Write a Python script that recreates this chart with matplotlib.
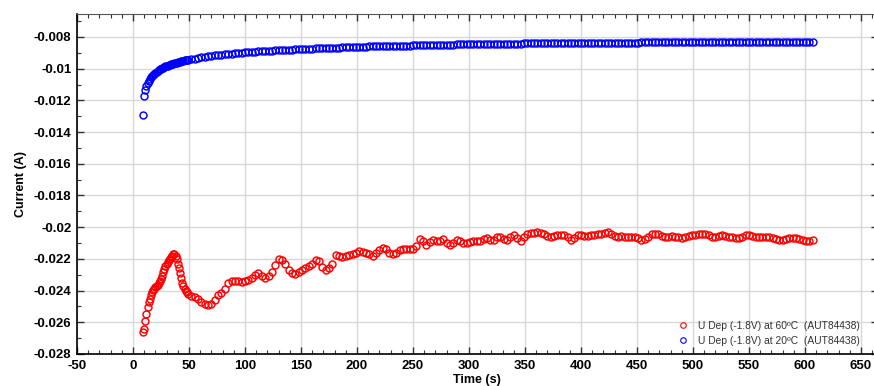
import numpy as np
import matplotlib
matplotlib.use("Agg")
import matplotlib.pyplot as plt
from matplotlib.ticker import MultipleLocator, FuncFormatter

# ---------------- data ----------------
time_early = np.arange(9, 50, 1)      # 9..49 s
time_late = np.arange(52, 608, 3)     # 52..607 s
time_s = np.concatenate([time_early, time_late])

current_60C = [
    # 9..49 s (1 s)
    -0.02664, -0.02645, -0.02590, -0.02545, -0.02505, -0.02475, -0.02450, -0.02428,
    -0.02410, -0.02396, -0.02388, -0.02380, -0.02373, -0.02365, -0.02355, -0.02342,
    -0.02325, -0.02305, -0.02285, -0.02265, -0.02245, -0.02230, -0.02218, -0.02208,
    -0.02200, -0.02190, -0.02180, -0.02172, -0.02170, -0.02180, -0.02200, -0.02230,
    -0.02260, -0.02290, -0.02320, -0.02350, -0.02370, -0.02388, -0.02400, -0.02412,
    -0.02422,
    # 52..607 s (3 s)
    -0.02435, -0.02442, -0.02455, -0.02470, -0.02482, -0.02490, -0.02485, -0.02460,
    -0.02430, -0.02415, -0.02390, -0.02350, -0.02340, -0.02342, -0.02340, -0.02345,
    -0.02340, -0.02330, -0.02320, -0.02300, -0.02290, -0.02310, -0.02320, -0.02310,
    -0.02280, -0.02240, -0.02200, -0.02210, -0.02235, -0.02270, -0.02290, -0.02295,
    -0.02280, -0.02270, -0.02255, -0.02245, -0.02230, -0.02210, -0.02215, -0.02250,
    -0.02270, -0.02255, -0.02230, -0.02175, -0.02180, -0.02190, -0.02180, -0.02175,
    -0.02170, -0.02160, -0.02150, -0.02155, -0.02160, -0.02170, -0.02180, -0.02165,
    -0.02145, -0.02130, -0.02140, -0.02160, -0.02170, -0.02160, -0.02145, -0.02140,
    -0.02140, -0.02140, -0.02140, -0.02120, -0.02075, -0.02085, -0.02110, -0.02095,
    -0.02080, -0.02090, -0.02090, -0.02075, -0.02100, -0.02115, -0.02100, -0.02080,
    -0.02090, -0.02100, -0.02100, -0.02095, -0.02090, -0.02090, -0.02085, -0.02075,
    -0.02070, -0.02080, -0.02080, -0.02065, -0.02065, -0.02075, -0.02080, -0.02065,
    -0.02050, -0.02070, -0.02090, -0.02060, -0.02040, -0.02035, -0.02035, -0.02030,
    -0.02035, -0.02045, -0.02055, -0.02060, -0.02055, -0.02050, -0.02050, -0.02050,
    -0.02060, -0.02080, -0.02070, -0.02050, -0.02050, -0.02055, -0.02055, -0.02050,
    -0.02050, -0.02045, -0.02040, -0.02035, -0.02030, -0.02040, -0.02055, -0.02060,
    -0.02055, -0.02060, -0.02060, -0.02060, -0.02065, -0.02070, -0.02080, -0.02075,
    -0.02060, -0.02045, -0.02040, -0.02045, -0.02055, -0.02060, -0.02060, -0.02055,
    -0.02060, -0.02065, -0.02070, -0.02065, -0.02055, -0.02050, -0.02050, -0.02045,
    -0.02040, -0.02040, -0.02050, -0.02060, -0.02060, -0.02055, -0.02050, -0.02055,
    -0.02060, -0.02065, -0.02070, -0.02070, -0.02060, -0.02050, -0.02050, -0.02055,
    -0.02060, -0.02060, -0.02060, -0.02060, -0.02065, -0.02070, -0.02075, -0.02080,
    -0.02080, -0.02075, -0.02070, -0.02070, -0.02070, -0.02075, -0.02080, -0.02085,
    -0.02085, -0.02080,
]

current_20C = [
    # 9..49 s (1 s)
    -0.01292, -0.01175, -0.01135, -0.01110, -0.01088, -0.01075, -0.01065, -0.01055,
    -0.01046, -0.01039, -0.01032, -0.01026, -0.01020, -0.01015, -0.01010, -0.01005,
    -0.01001, -0.00997, -0.00993, -0.00990, -0.00986, -0.00983, -0.00980, -0.00977,
    -0.00975, -0.00972, -0.00970, -0.00968, -0.00965, -0.00963, -0.00961, -0.00959,
    -0.00957, -0.00955, -0.00953, -0.00951, -0.00950, -0.00948, -0.00946, -0.00945,
    -0.00943,
    # 52..607 s (3 s)
    -0.00940, -0.00936, -0.00932, -0.00929, -0.00925, -0.00922, -0.00919, -0.00916,
    -0.00914, -0.00911, -0.00909, -0.00907, -0.00905, -0.00903, -0.00901, -0.00899,
    -0.00897, -0.00896, -0.00894, -0.00892, -0.00891, -0.00890, -0.00888, -0.00887,
    -0.00886, -0.00884, -0.00883, -0.00882, -0.00881, -0.00880, -0.00879, -0.00878,
    -0.00877, -0.00876, -0.00875, -0.00874, -0.00873, -0.00872, -0.00871, -0.00871,
    -0.00870, -0.00869, -0.00868, -0.00867, -0.00867, -0.00866, -0.00865, -0.00865,
    -0.00864, -0.00863, -0.00862, -0.00862, -0.00861, -0.00860, -0.00860, -0.00859,
    -0.00859, -0.00858, -0.00857, -0.00857, -0.00856, -0.00856, -0.00855, -0.00855,
    -0.00854, -0.00854, -0.00853, -0.00853, -0.00852, -0.00852, -0.00851, -0.00851,
    -0.00850, -0.00850, -0.00849, -0.00849, -0.00849, -0.00848, -0.00848, -0.00847,
    -0.00847, -0.00847, -0.00846, -0.00846, -0.00846, -0.00845, -0.00845, -0.00845,
    -0.00844, -0.00844, -0.00844, -0.00843, -0.00843, -0.00843, -0.00843, -0.00842,
    -0.00842, -0.00842, -0.00842, -0.00841, -0.00841, -0.00841, -0.00841, -0.00840,
    -0.00840, -0.00840, -0.00840, -0.00839, -0.00839, -0.00839, -0.00839, -0.00839,
    -0.00838, -0.00838, -0.00838, -0.00838, -0.00838, -0.00837, -0.00837, -0.00837,
    -0.00837, -0.00837, -0.00836, -0.00836, -0.00836, -0.00836, -0.00836, -0.00836,
    -0.00835, -0.00835, -0.00835, -0.00835, -0.00835, -0.00835, -0.00834, -0.00834,
    -0.00834, -0.00834, -0.00834, -0.00834, -0.00834, -0.00833, -0.00833, -0.00833,
    -0.00833, -0.00833, -0.00833, -0.00833, -0.00833, -0.00832, -0.00832, -0.00832,
    -0.00832, -0.00832, -0.00832, -0.00832, -0.00832, -0.00832, -0.00831, -0.00831,
    -0.00831, -0.00831, -0.00831, -0.00831, -0.00831, -0.00831, -0.00831, -0.00831,
    -0.00830, -0.00830, -0.00830, -0.00830, -0.00830, -0.00830, -0.00830, -0.00830,
    -0.00830, -0.00830, -0.00830, -0.00830, -0.00830, -0.00830, -0.00830, -0.00830,
    -0.00830, -0.00830,
]

label_60C = "U Dep (-1.8V) at 60\u00baC  (AUT84438)"
label_20C = "U Dep (-1.8V) at 20\u00baC  (AUT84438)"
x_label = "Time (s)"
y_label = "Current (A)"

n = min(len(time_s), len(current_60C), len(current_20C))
time_s = time_s[:n]
current_60C = current_60C[:n]
current_20C = current_20C[:n]

# ---------------- figure ----------------
plt.rcParams['font.family'] = ['Liberation Sans', 'DejaVu Sans']
plt.rcParams['axes.unicode_minus'] = False
W, H = 874, 386
fig = plt.figure(figsize=(W / 100, H / 100), dpi=100)

x0, x1 = -50, 665
left_px, top_px, bottom_px = 77, 14, 354
px_per_unit = 1.12
width_px = (x1 - x0) * px_per_unit
ax = fig.add_axes([left_px / W, (H - bottom_px) / H, width_px / W, (bottom_px - top_px) / H])

ax.set_xlim(x0, x1)
ax.set_ylim(-0.028, -0.00655)

ax.grid(True, which='major', color='#d8d8d8', linewidth=1.0)
ax.set_axisbelow(True)

mk = dict(linestyle='none', marker='o', markersize=5.0, markerfacecolor='none', markeredgewidth=1.05)
ax.plot(time_s, current_60C, color='#ff0000', label=label_60C, **mk)
ax.plot(time_s, current_20C, color='#0000ff', label=label_20C, **mk)

ax.xaxis.set_major_locator(MultipleLocator(50))
ax.xaxis.set_minor_locator(MultipleLocator(10))
ax.yaxis.set_major_locator(MultipleLocator(0.002))
ax.yaxis.set_minor_locator(MultipleLocator(0.001))


def yfmt(v, pos):
    s = f"{v:.3f}".rstrip('0').rstrip('.')
    return s


ax.yaxis.set_major_formatter(FuncFormatter(yfmt))
ax.tick_params(which='both', direction='in', top=True, right=True, colors='#333333',
               labelcolor='black')
ax.tick_params(which='major', length=5, width=1)
ax.tick_params(which='minor', length=3, width=0.8)
ax.tick_params(axis='x', which='major', pad=4)
ax.tick_params(axis='y', which='major', pad=4)
for lab in ax.get_xticklabels() + ax.get_yticklabels():
    lab.set_fontweight('bold')
    lab.set_fontsize(9.5)

for side in ['left', 'bottom']:
    ax.spines[side].set_color('black')
    ax.spines[side].set_linewidth(1.2)
ax.spines['top'].set_color('#555555')
ax.spines['right'].set_color('#555555')

ax.set_xlabel(x_label, fontsize=9, fontweight='bold', labelpad=2)
ax.set_ylabel(y_label, fontsize=9, fontweight='bold', labelpad=5)

handles, labels = ax.get_legend_handles_labels()
leg = fig.legend(handles, labels, loc='lower left',
                 bbox_to_anchor=(678 / W, (H - 346) / H),
                 frameon=False, fontsize=7.4, handlelength=1.0, handletextpad=0.9,
                 labelspacing=0.5, borderpad=0, borderaxespad=0, markerscale=0.8)
for t in leg.get_texts():
    t.set_color('#333333')
for h in leg.legend_handles:
    h.set_markeredgewidth(0.8)

fig.savefig('out.png', dpi=100)
